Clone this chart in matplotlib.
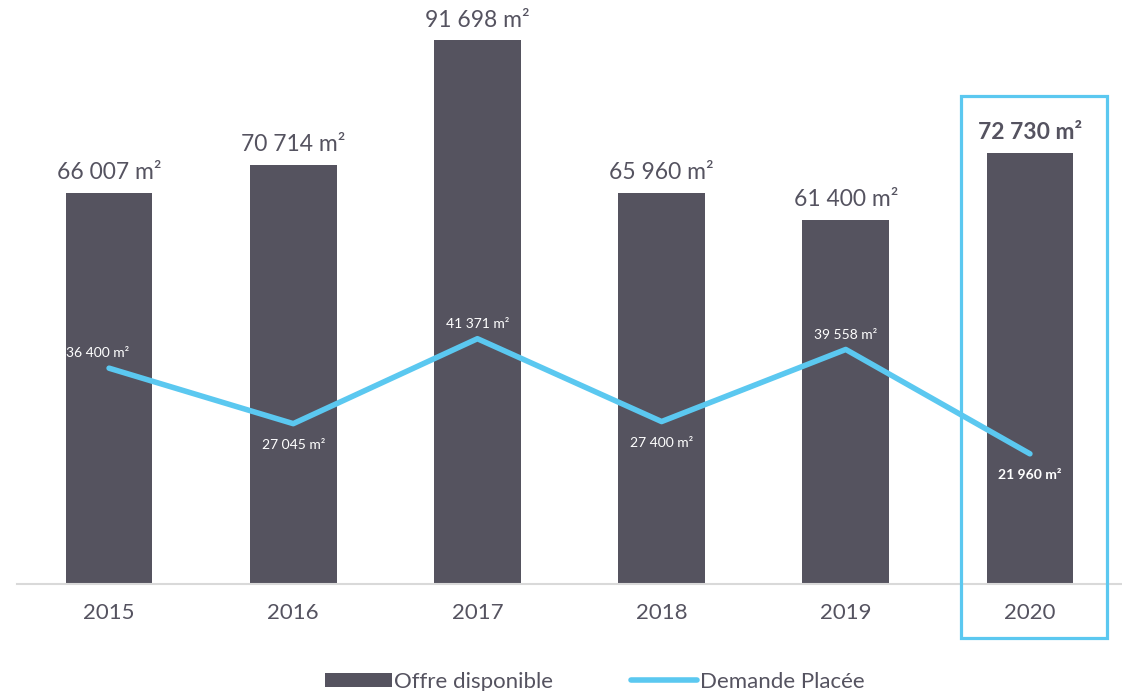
import matplotlib.pyplot as plt
import numpy as np

plt.rcParams['font.family'] = ['Lato', 'DejaVu Sans']

years = ['2015', '2016', '2017', '2018', '2019', '2020']
offre = [66007, 70714, 91698, 65960, 61400, 72730]
demande = [36400, 27045, 41371, 27400, 39558, 21960]
offre_labels = ['66 007 m²', '70 714 m²', '91 698 m²', '65 960 m²', '61 400 m²', '72 730 m²']
demande_labels = ['36 400 m²', '27 045 m²', '41 371 m²', '27 400 m²', '39 558 m²', '21 960 m²']
# label above (+1) or below (-1) the line point
demande_side = [1, -1, 1, -1, 1, -1]

bar_col = '#55535F'
line_col = '#5BC8F0'
txt_col = '#555360'

fig = plt.figure(figsize=(11.22, 6.91), dpi=100, facecolor='w')
ax = fig.add_axes([17 / 1122, 107 / 691, 1 - 17 / 1122, 584 / 691])

x = np.arange(len(years))
bars = ax.bar(x, offre, width=0.47, color=bar_col, label='Offre disponible', zorder=2)
line, = ax.plot(x, demande, color=line_col, lw=4, solid_capstyle='round', label='Demande Placée', zorder=3)

for i in range(len(years)):
    last = i == len(years) - 1
    ax.text(x[i], offre[i] + 1600, offre_labels[i], ha='center', va='bottom',
            fontsize=16.5, color=txt_col, fontweight='bold' if last else 'normal')
    dy = 2500 if demande_side[i] > 0 else -3600
    ax.text(x[i] - (0.06 if i == 0 else 0), demande[i] + dy, demande_labels[i], ha='center', va='center',
            fontsize=10, color='white', fontweight='bold' if last else 'normal', zorder=4)

# highlight box around 2020
ax.add_patch(plt.Rectangle((4.625, -9100), 0.793, 91350, fill=False, ec=line_col, lw=2.3,
                           clip_on=False, zorder=5))

ax.set_xlim(-0.5, 5.5)
ax.set_ylim(0, 98500)
ax.set_yticks([])
ax.set_xticks(x)
ax.set_xticklabels(years, fontsize=16, color=txt_col)
ax.tick_params(axis='x', length=0, pad=14)
for s in ['top', 'right', 'left']:
    ax.spines[s].set_visible(False)
ax.spines['bottom'].set_color('#D9D9D9')
ax.spines['bottom'].set_linewidth(1.5)

leg = fig.legend([bars, line], ['Offre disponible', 'Demande Placée'], loc='lower center',
                 bbox_to_anchor=(0.53, -0.03), ncol=2, frameon=False,
                 fontsize=16, handlelength=3.0, handleheight=0.6, handletextpad=0.1, columnspacing=3.5)
for t in leg.get_texts():
    t.set_color(txt_col)

plt.savefig('out.png', dpi=100)
